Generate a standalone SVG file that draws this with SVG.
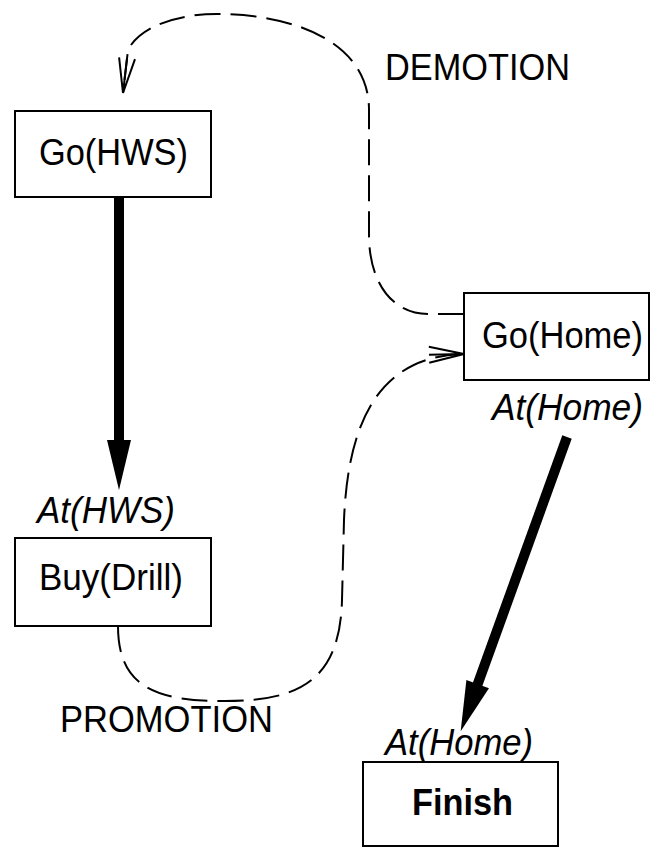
<svg xmlns="http://www.w3.org/2000/svg" width="654" height="849" viewBox="0 0 654 849">
<style>
.box{fill:#fff;stroke:#000;stroke-width:2}
.t{font-family:"Liberation Sans",Arial,sans-serif;font-size:36px;fill:#000}
.it{font-style:italic}
.b{font-weight:bold}
.thick{fill:none;stroke:#000;stroke-width:10}
.dash{fill:none;stroke:#000;stroke-width:2;stroke-dasharray:26 10}
</style>
<defs>
<marker id="solidHead" markerUnits="userSpaceOnUse" markerWidth="60" markerHeight="30" viewBox="0 -15 60 30" refX="2" refY="0" orient="auto" overflow="visible">
<path d="M0,-12 L50,0 L0,12 z" fill="#000"/>
</marker>
<marker id="openHead" markerUnits="userSpaceOnUse" markerWidth="40" markerHeight="20" viewBox="0 -10 40 20" refX="35" refY="0" orient="auto" overflow="visible">
<path d="M0,-8 L35,0 L0,8 M0,0 L35,0" fill="none" stroke="#000" stroke-width="2"/>
</marker>
</defs>
<rect width="654" height="849" fill="#fff"/>
<g id="connectors">
<path id="demotion" class="dash" d="M464,314 L428,314 C392,314 369,282 369,235 L369,110 C369,40 290,14 217,14 C178,14 140,26 128,50 L123,93" marker-end="url(#openHead)"/>
<path id="promotion" class="dash" d="M118,626 C118,690 160,701 225,701 C300,701 340,680 342,600 L344,520 C348,420 380,356 464,354" marker-end="url(#openHead)"/>
<path id="e1" class="thick" d="M119,197 L119,442" marker-end="url(#solidHead)"/>
<path id="e2" class="thick" d="M567,437 L477,686" marker-end="url(#solidHead)"/>
</g>
<g id="labels">
<text class="t" x="385" y="80" textLength="185" lengthAdjust="spacingAndGlyphs">DEMOTION</text>
<text class="t" x="60" y="732" textLength="213" lengthAdjust="spacingAndGlyphs">PROMOTION</text>
</g>
<g id="goHWS">
<rect class="box" x="15" y="111" width="196" height="86"/>
<text class="t" x="39" y="165" textLength="149" lengthAdjust="spacingAndGlyphs">Go(HWS)</text>
</g>
<g id="goHome">
<rect class="box" x="464" y="293" width="185" height="87"/>
<text class="t" x="482" y="348" textLength="161" lengthAdjust="spacingAndGlyphs">Go(Home)</text>
<text class="t it" x="492" y="420" textLength="151" lengthAdjust="spacingAndGlyphs">At(Home)</text>
</g>
<g id="buyDrill">
<text class="t it" x="37" y="523" textLength="138" lengthAdjust="spacingAndGlyphs">At(HWS)</text>
<rect class="box" x="15" y="538" width="196" height="88"/>
<text class="t" x="39" y="590" textLength="144" lengthAdjust="spacingAndGlyphs">Buy(Drill)</text>
</g>
<g id="finish">
<text class="t it" x="385" y="755" textLength="148" lengthAdjust="spacingAndGlyphs">At(Home)</text>
<rect class="box" x="363" y="762" width="195" height="84"/>
<text class="t b" x="412" y="815" textLength="101" lengthAdjust="spacingAndGlyphs">Finish</text>
</g>
</svg>
